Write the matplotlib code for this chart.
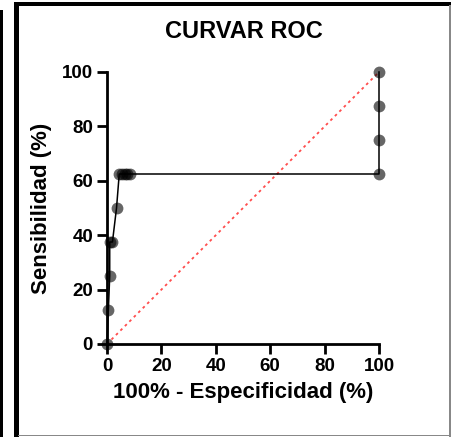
import numpy as np
import matplotlib
matplotlib.use('Agg')
import matplotlib.pyplot as plt
from matplotlib.patches import Rectangle

# datos de la curva ROC
especificidad = [0, 0.5, 1, 1, 2, 3.5, 4.5, 5.5, 6.5, 7.5, 8.5, 100, 100, 100, 100]
sensibilidad = [0, 12.5, 25, 37.5, 37.5, 50, 62.5, 62.5, 62.5, 62.5, 62.5, 62.5, 75, 87.5, 100]
diagonal = [0, 100]
ticks = [0, 20, 40, 60, 80, 100]

plt.rcParams['font.family'] = ['Liberation Sans', 'DejaVu Sans']

W, H = 452, 437
fig = plt.figure(figsize=(W / 100, H / 100), dpi=100)
ax = fig.add_axes([107 / W, 1 - 344 / H, 272 / W, 272 / H])

ax.plot(diagonal, diagonal, color='#ff4d4d', linestyle=(0, (1.5, 2)), linewidth=1.3, clip_on=False)
ax.plot(especificidad, sensibilidad, color='black', linewidth=1.1, clip_on=False, zorder=3)
ax.plot(especificidad, sensibilidad, 'o', color='black', alpha=0.6, markersize=8.5,
        markeredgewidth=0, clip_on=False, zorder=4)

ax.set_xlim(0, 100)
ax.set_ylim(0, 100)
ax.set_xticks(ticks)
ax.set_yticks(ticks)
ax.tick_params(width=2, length=7, labelsize=13.5, pad=3)
for lab in ax.get_xticklabels() + ax.get_yticklabels():
    lab.set_fontweight('bold')
for s in ['top', 'right']:
    ax.spines[s].set_visible(False)
for s in ['left', 'bottom']:
    ax.spines[s].set_linewidth(2)

ax.set_xlabel('100% - Especificidad (%)', fontsize=16, fontweight='bold', labelpad=5)
ax.set_ylabel('Sensibilidad (%)', fontsize=16, fontweight='bold', labelpad=7)
fig.text(244 / W, 1 - 31 / H, 'CURVAR ROC', fontsize=17, fontweight='bold', ha='center', va='center')

# marco de la imagen
def rect(x0, y0, x1, y1, color):
    fig.add_artist(Rectangle((x0 / W, 1 - y1 / H), (x1 - x0) / W, (y1 - y0) / H,
                             transform=fig.transFigure, color=color, linewidth=0))

rect(0, 10, 3.5, H, 'black')
rect(14, 2, 18.5, H, 'black')
rect(14, 2, W, 5.5, 'black')
rect(449.5, 5, 451, H, '#888888')
rect(18, 434.5, W, 436, '#888888')

fig.savefig('out.png', dpi=100)
